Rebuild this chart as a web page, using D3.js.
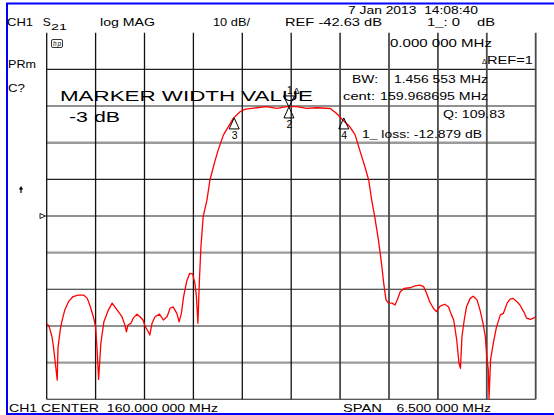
<!DOCTYPE html>
<html>
<head>
<meta charset="utf-8">
<script src="https://cdn.jsdelivr.net/npm/d3@7"></script>
<style>
  body { margin: 0; background: #fff; }
  svg { display: block; }
  text { font-family: "Liberation Sans", Arial, sans-serif; fill: #000; }
</style>
</head>
<body>
<svg id="chart" width="554" height="415"></svg>
<script>
// sweep settings
const centerMHz = 160.0;
const spanMHz = 6.5;
const refDB = -42.63;
const dbPerDiv = 10;
const refDiv = 5; // reference line, divisions from the top

// S21 trace
const freqMHz = [
  156.75, 156.78, 156.82, 156.84, 156.86, 156.89, 156.90, 156.93, 156.95, 156.99,
  157.04, 157.10, 157.17, 157.24, 157.29, 157.33, 157.37, 157.40, 157.42, 157.44,
  157.47, 157.51, 157.57, 157.62, 157.68, 157.75, 157.79, 157.81, 157.83, 157.87,
  157.90, 157.95, 157.99, 158.03, 158.06, 158.10, 158.12, 158.15, 158.19, 158.25,
  158.30, 158.35, 158.39, 158.43, 158.48, 158.51, 158.54, 158.57, 158.61, 158.65,
  158.69, 158.72, 158.74, 158.76, 158.78, 158.80, 158.83, 158.88, 158.92, 158.99,
  159.03, 159.10, 159.23, 159.32, 159.39, 159.54, 159.67, 159.81, 159.94, 160.07,
  160.21, 160.34, 160.52, 160.60, 160.69, 160.78, 160.85, 160.91, 160.98, 161.03,
  161.07, 161.11, 161.16, 161.20, 161.23, 161.26, 161.29, 161.34, 161.38, 161.41,
  161.45, 161.50, 161.58, 161.65, 161.71, 161.76, 161.80, 161.84, 161.89, 161.93,
  161.98, 162.04, 162.09, 162.13, 162.16, 162.20, 162.23, 162.25, 162.27, 162.30,
  162.33, 162.38, 162.42, 162.47, 162.51, 162.55, 162.58, 162.60, 162.62, 162.63,
  162.65, 162.69, 162.73, 162.78, 162.82, 162.87, 162.91, 162.95, 163.00, 163.04,
  163.09, 163.13, 163.18, 163.22, 163.25
];
const s21dB = [
  -72.1, -72.6, -75.5, -78.3, -81.9, -87.4, -78.6, -73.7, -71.5, -68.3,
  -66.0, -64.6, -64.2, -64.2, -65.1, -67.4, -70.1, -72.8, -79.2, -87.2,
  -77.3, -71.5, -68.3, -66.4, -68.1, -70.1, -72.4, -74.2, -72.4, -71.9,
  -70.5, -69.4, -70.1, -71.0, -72.8, -74.2, -75.1, -71.9, -70.1, -69.4,
  -71.0, -70.1, -67.8, -67.4, -69.2, -71.5, -69.2, -64.6, -60.5, -58.3,
  -58.4, -61.0, -64.6, -71.9, -60.1, -51.0, -42.8, -38.3, -32.8, -27.4,
  -24.6, -20.5, -16.0, -14.2, -13.5, -13.1, -12.8, -13.3, -12.8, -12.8,
  -13.3, -13.1, -13.3, -14.6, -16.5, -18.3, -20.5, -24.6, -29.2, -32.8,
  -38.3, -42.8, -49.2, -55.5, -61.0, -65.5, -66.3, -66.4, -66.9, -65.5,
  -63.3, -62.4, -62.2, -61.7, -61.5, -61.9, -63.7, -66.0, -67.8, -68.7,
  -67.2, -66.7, -67.4, -69.6, -71.0, -76.4, -82.8, -84.2, -75.5, -71.0,
  -67.4, -65.1, -64.5, -65.5, -68.3, -71.9, -75.5, -81.0, -84.6, -92.5,
  -81.9, -76.9, -72.8, -69.6, -69.2, -66.4, -65.3, -65.1, -66.0, -66.9,
  -68.7, -70.5, -70.8, -70.5, -70.1
];

// markers: 1 (delta ref, drawn pointing down), 2, 3, 4
const markerIds = ["1", "2", "3", "4"];
const markerMHz = [159.97, 159.97, 159.242, 160.699];
const markerDB = [-12.88, -12.88, -15.88, -15.88];

const svg = d3.select("#chart");

const gridLeft = 46.7, gridRight = 535.7, gridTop = 32.7, gridBottom = 399.3;
const topDB = refDB + refDiv * dbPerDiv;

const x = d3.scaleLinear()
  .domain([centerMHz - spanMHz / 2, centerMHz + spanMHz / 2])
  .range([gridLeft, gridRight]);
const y = d3.scaleLinear()
  .domain([topDB - 10 * dbPerDiv, topDB])
  .range([gridBottom, gridTop]);

// blue frame
svg.append("g").attr("stroke", "#0000ff").attr("stroke-width", 2).selectAll("line")
  .data([[7, 3, 7, 414.5], [6, 3.5, 554, 3.5], [6, 414, 554, 414]])
  .join("line")
  .attr("x1", d => d[0]).attr("y1", d => d[1])
  .attr("x2", d => d[2]).attr("y2", d => d[3]);

// graticule
const hDivs = d3.range(0, 10); // no line on top edge
svg.append("g").selectAll("line")
  .data(hDivs)
  .join("line")
  .attr("x1", gridLeft).attr("x2", gridRight)
  .attr("y1", k => y(topDB - (10 - k) * dbPerDiv))
  .attr("y2", k => y(topDB - (10 - k) * dbPerDiv))
  .attr("stroke", k => (10 - k) % 3 === 0 ? "#9a9a9a" : "#222")
  .attr("stroke-width", k => (10 - k) % 3 === 0 ? 2.4 : 1.1);

svg.append("g").selectAll("line")
  .data(d3.range(0, 11))
  .join("line")
  .attr("x1", k => x(x.domain()[0] + k * spanMHz / 10))
  .attr("x2", k => x(x.domain()[0] + k * spanMHz / 10))
  .attr("y1", gridTop).attr("y2", gridBottom)
  .attr("stroke", k => k > 5 ? "#4a4a4a" : "#111")
  .attr("stroke-width", k => k > 5 ? 1.8 : 1.3);

// trace
const pts = freqMHz.map((f, i) => [f, s21dB[i]]);
svg.append("path")
  .datum(pts)
  .attr("fill", "none")
  .attr("stroke", "#ff0000")
  .attr("stroke-width", 1.3)
  .attr("stroke-linejoin", "round")
  .attr("d", d3.line().x(d => x(d[0])).y(d => y(d[1])));

// markers
const mk = svg.append("g");
markerIds.forEach((id, i) => {
  const mx = x(markerMHz[i]), my = y(markerDB[i]);
  if (id === "1") {
    mk.append("path")
      .attr("d", `M${mx},${my} L${mx - 5.5},${my - 11} L${mx + 5.5},${my - 11} Z`)
      .attr("fill", "none").attr("stroke", "#000").attr("stroke-width", 1);
    mk.append("text").attr("x", mx - 2).attr("y", my - 13)
      .attr("font-size", 10).text("1");
    mk.append("text").attr("x", mx + 4.5).attr("y", my - 13)
      .attr("font-size", 9).text("Δ");
  } else {
    mk.append("path")
      .attr("d", `M${mx},${my} L${mx - 5},${my + 11} L${mx + 5},${my + 11} Z`)
      .attr("fill", "none").attr("stroke", "#000").attr("stroke-width", 1);
    mk.append("text").attr("x", mx + 0.5).attr("y", my + 21)
      .attr("text-anchor", "middle").attr("font-size", 10.5).text(id);
  }
});

// screen annotations: text, x, baseline, size, width
const labels = [
  ["CH1", 7, 26, 11.5, 26],
  ["S", 42.7, 26, 11.5, 8],
  ["21", 51, 29.5, 9, 16],
  ["log MAG", 100, 26, 11.5, 55],
  ["10 dB/", 213, 26, 11.5, 37],
  ["REF -42.63 dB", 285, 26, 11.5, 97],
  ["1_: 0", 427, 26, 11.5, 33],
  ["dB", 477, 26, 11.5, 18],
  ["7 Jan 2013  14:08:40", 348, 13.5, 11.5, 130],
  ["0.000 000 MHz", 390, 47, 11, 102],
  ["REF=1", 487, 64, 11, 46],
  ["PRm", 8, 67.5, 10.5, 28],
  ["C?", 8, 92, 10.5, 17],
  ["MARKER WIDTH VALUE", 60, 101, 15, 253],
  ["-3 dB", 69, 121.7, 15, 51],
  ["BW:", 352, 82.5, 11, 26],
  ["1.456 553 MHz", 394, 82.5, 11, 94],
  ["cent:", 343, 100, 11, 32],
  ["159.968695 MHz", 380, 100, 11, 108],
  ["Q: 109.83", 443, 117.5, 11, 62],
  ["1_ loss: -12.879 dB", 362, 137.5, 11, 120],
  ["CH1 CENTER  160.000 000 MHz", 9, 412, 11, 209],
  ["SPAN", 343, 412, 11, 39],
  ["6.500 000 MHz", 396.5, 412, 11, 94.5]
];
svg.append("g").selectAll("text")
  .data(labels)
  .join("text")
  .attr("x", d => d[1]).attr("y", d => d[2])
  .attr("font-size", d => d[3])
  .attr("textLength", d => d[4])
  .attr("lengthAdjust", "spacingAndGlyphs")
  .style("white-space", "pre")
  .text(d => d[0]);

svg.append("text").attr("x", 482).attr("y", 64).attr("font-size", 7).text("Δ");

// hp logo
svg.append("rect").attr("x", 51.5).attr("y", 39.5).attr("width", 11).attr("height", 8)
  .attr("rx", 1.5).attr("fill", "none").attr("stroke", "#000").attr("stroke-width", 0.8);
svg.append("text").attr("x", 53).attr("y", 46).attr("font-size", 6.5)
  .attr("font-style", "italic").attr("textLength", 8).text("hp");

// reference position and small arrow at the left
svg.append("path").attr("d", `M40,${y(refDB) - 2.5} L45.5,${y(refDB)} L40,${y(refDB) + 2.5} Z`)
  .attr("fill", "none").attr("stroke", "#000").attr("stroke-width", 0.9);
svg.append("path").attr("d", "M21,193 L21,188.5")
  .attr("stroke", "#000").attr("stroke-width", 1.2);
svg.append("path").attr("d", "M18.8,189.5 L21,186 L23.2,189.5 Z").attr("fill", "#000");
</script>
</body>
</html>
